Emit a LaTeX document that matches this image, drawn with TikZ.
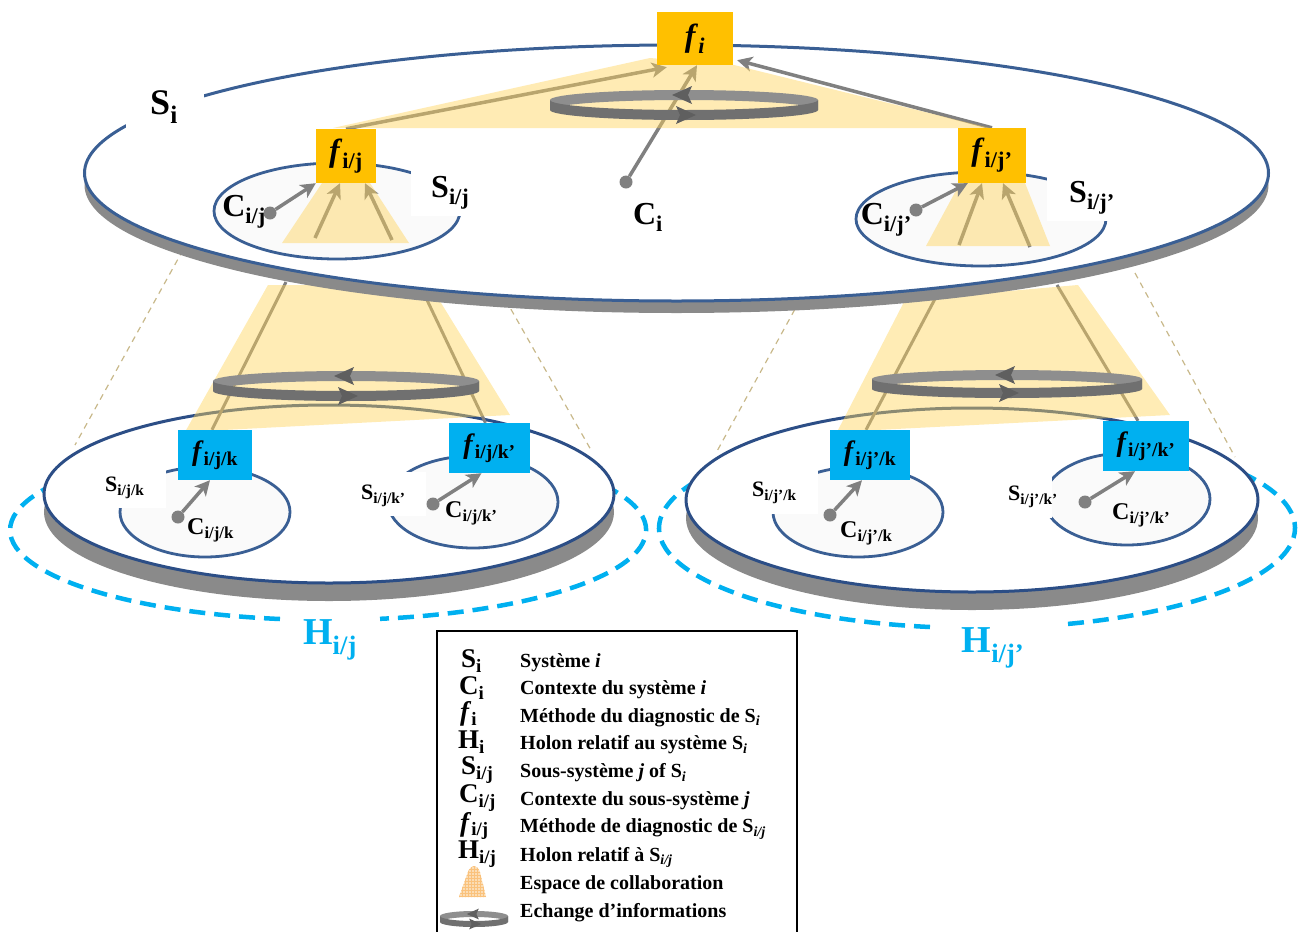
\documentclass[tikz,border=0pt]{standalone}
\usepackage{fontspec}
\setmainfont{Liberation Serif}
\usetikzlibrary{arrows.meta,patterns}
\definecolor{orangeC}{HTML}{FFC000}
\definecolor{cyanC}{HTML}{00B0F0}
\definecolor{blueL}{HTML}{3A5F94}
\definecolor{blueD}{HTML}{2C4E86}
\definecolor{rimG}{HTML}{8A8A8A}
\definecolor{arrG}{HTML}{808080}
\definecolor{yel}{HTML}{FFD45A}
\definecolor{tanD}{HTML}{C8B88A}
\definecolor{ringB}{HTML}{8E8E8E}
\definecolor{ringF}{HTML}{707070}
\definecolor{innerF}{HTML}{FAFAFA}
\definecolor{peach}{HTML}{F9C98A}
\pgfdeclarelayer{l1}\pgfdeclarelayer{l2}\pgfdeclarelayer{l3}\pgfdeclarelayer{l4}\pgfdeclarelayer{l5}
\pgfsetlayers{l1,l2,l3,l4,l5,main}
\newcommand\lb[2]{\textbf{#1\textsubscript{#2}}}
\newcommand\fb[1]{\textbf{\textit{f}\textsubscript{#1}}}
\newcommand\fsz[1]{\fontsize{#1}{#1}\selectfont\bfseries}
% cx cy rx ry scale
\newcommand\ringband[5]{%
 \fill[ringB] ({#1+#3},{#2-5*#5}) arc[start angle=0,end angle=-180,x radius=#3,y radius=#4] -- ++(0,{10*#5}) arc[start angle=-180,end angle=0,x radius=#3,y radius=#4] -- cycle;
 \fill[ringF] ({#1+#3},{#2-5*#5}) arc[start angle=0,end angle=180,x radius=#3,y radius=#4] -- ++(0,{10*#5}) arc[start angle=180,end angle=0,x radius=#3,y radius=#4] -- cycle;
 \fill[ringF!85!black] ({#1-12*#5},{#2-#4}) -- ({#1+8*#5},{#2-#4-9*#5}) -- ({#1+4*#5},{#2-#4}) -- ({#1+8*#5},{#2-#4+9*#5}) -- cycle;
 \fill[ringF!85!black] ({#1+12*#5},{#2+#4}) -- ({#1-8*#5},{#2+#4-9*#5}) -- ({#1-4*#5},{#2+#4}) -- ({#1-8*#5},{#2+#4+9*#5}) -- cycle;}
\tikzset{
 obox/.style={fill=orangeC,inner sep=0pt,font=\fsz{32}},
 cbox/.style={fill=cyanC,inner sep=0pt,font=\fsz{28}},
 arr/.style={draw=arrG,line width=3.5pt,-{Stealth[length=15pt,width=15pt,inset=4pt]}},
 dotn/.style={circle,fill=arrG,inner sep=0pt,minimum size=13pt},
 yzone/.style={fill=yel,fill opacity=0.45},
 olive/.style={draw=arrG,line width=3pt},
 disk/.style={draw=blueL,line width=3pt,fill=white},
 ldisk/.style={draw=blueD,line width=3pt,fill=white},
 inner/.style={draw=blueL,line width=2.8pt,fill=innerF},
 hol/.style={draw=cyanC,line width=4.5pt,dash pattern=on 16pt off 9pt},
 tand/.style={draw=tanD,line width=1.2pt,dash pattern=on 6pt off 5pt},
 lab/.style={inner sep=0pt},
 leg/.style={anchor=west,inner sep=0pt,font=\fsz{20}},
 legs/.style={anchor=west,inner sep=0pt,font=\fsz{27}},
}
\begin{document}
\begin{tikzpicture}[x=1pt,y=-1pt]
\useasboundingbox (0,0) rectangle (1299,932);
% ---------- boxes (main layer) ----------
\node[obox,minimum width=76pt,minimum height=53pt] (fi) at (695,38.5) {\textit{f}\textsubscript{\textit{i}}};
\node[obox,minimum width=60pt,minimum height=54pt] (fij) at (346,156) {\fb{i/j}};
\node[obox,minimum width=68pt,minimum height=55pt] (fijp) at (992,155.5) {\fb{i/j’}};
\node[cbox,minimum width=74pt,minimum height=50pt] (fijk) at (215,455) {\fb{i/j/k}};
\node[cbox,minimum width=81pt,minimum height=50pt] (fijkp) at (489.5,448) {\fb{i/j/k’}};
\node[cbox,minimum width=80pt,minimum height=50pt] (fjpk) at (870,455) {\fb{i/j’/k}};
\node[cbox,minimum width=86pt,minimum height=50pt] (fjpkp) at (1146,446) {\fb{i/j’/k’}};
% ---------- layer 1: lower holons ----------
\begin{pgfonlayer}{l1}
 \coordinate (d1a) at (183,250); \coordinate (d1b) at (75,445);
 \coordinate (d2a) at (500,290); \coordinate (d2b) at (591,450);
 \coordinate (d3a) at (800,300); \coordinate (d3b) at (716,453);
 \coordinate (d4a) at (1135,273); \coordinate (d4b) at (1235,457);
 \draw[tand] (d1a) -- (d1b); \draw[tand] (d2a) -- (d2b);
 \draw[tand] (d3a) -- (d3b); \draw[tand] (d4a) -- (d4b);
 \draw[hol] (280,619) arc[start angle=98.7,end angle=440.6,x radius=318,y radius=90];
 \draw[hol] (930,627) arc[start angle=98.5,end angle=434.9,x radius=318,y radius=100];
 \fill[rimG] (329,512) ellipse[x radius=285,y radius=89];
 \draw[ldisk] (329,494) ellipse[x radius=285,y radius=89];
 \fill[rimG] (972,518) ellipse[x radius=286,y radius=92];
 \draw[ldisk] (972,500) ellipse[x radius=286,y radius=92];
 \draw[inner] (205,512) ellipse[x radius=85,y radius=45];
 \draw[inner] (473,502) ellipse[x radius=85,y radius=46];
 \draw[inner] (858,512) ellipse[x radius=85,y radius=45];
 \draw[inner] (1127,499) ellipse[x radius=83,y radius=46];
 % white gaps behind the sub-system labels
 \fill[white] (100,468) rectangle (166,508);
 \fill[white] (352,472) rectangle (426,516);
 \fill[white] (742,470) rectangle (818,514);
 \fill[white] (996,474) rectangle (1052,518);
\end{pgfonlayer}
% ---------- layer 2: lower collaboration ----------
\begin{pgfonlayer}{l2}
 \coordinate (t1) at (286,282); \coordinate (t2) at (427,300);
 \coordinate (t3) at (936,297); \coordinate (t4) at (1057,285);
 \draw[olive] (t1) -- ([xshift=-3pt]fijk.north);
 \draw[olive] (t2) -- ([xshift=-4pt]fijkp.north);
 \draw[olive] (t3) -- ([xshift=-4pt]fjpk.north);
 \draw[olive] (t4) -- ([xshift=-8pt]fjpkp.north);
 \fill[yzone] (268,285) -- (430,285) -- (510,415) -- (185,432) -- cycle;
 \fill[yzone] (905,300) -- (1078,285) -- (1170,415) -- (837,432) -- cycle;
 \ringband{346}{386}{133}{10}{1}
 \ringband{1007}{384}{135}{9}{1}
\end{pgfonlayer}
% ---------- layer 3: top disk ----------
\begin{pgfonlayer}{l3}
 \fill[rimG] (676.5,185) ellipse[x radius=592,y radius=128];
 \draw[disk] (676.5,173) ellipse[x radius=592,y radius=128];
 \draw[inner] (337,211) ellipse[x radius=123,y radius=48];
 \draw[inner] (981,219) ellipse[x radius=125,y radius=47];
 \fill[white] (126,84) rectangle (204,131);
 \fill[white] (411,171) rectangle (472,216);
 \fill[white] (1047,175) rectangle (1110,221);
\end{pgfonlayer}
% ---------- layer 4: top arrows ----------
\begin{pgfonlayer}{l4}
 \node[dotn] (cid) at (626,182) {};
 \draw[arr] (cid) -- ([xshift=2pt]fi.south);
 \draw[arr] (fij.north) -- ([xshift=10pt,yshift=-2pt]fi.south west);
 \draw[arr] (fijp.north) -- ([xshift=4pt,yshift=5pt]fi.south east);
 \coordinate (u1) at (315,238); \coordinate (u2) at (392,240);
 \coordinate (u3) at (959,245); \coordinate (u4) at (1030,247);
 \draw[arr] (u1) -- ([xshift=-6pt]fij.south);
 \draw[arr] (u2) -- ([xshift=19pt]fij.south);
 \draw[arr] (u3) -- ([xshift=-10pt]fijp.south);
 \draw[arr] (u4) -- ([xshift=11pt]fijp.south);
\end{pgfonlayer}
% ---------- layer 5: top collaboration ----------
\begin{pgfonlayer}{l5}
 \fill[yzone] (650,58) -- (734,65) -- (990,128) -- (333,128) -- cycle;
 \fill[yzone] (322,183) -- (370,183) -- (409,243) -- (282,243) -- cycle;
 \fill[yzone] (960,183) -- (1025,183) -- (1050,246) -- (926,246) -- cycle;
 \ringband{684}{105}{134}{10}{1}
\end{pgfonlayer}
% ---------- contexts ----------
\node[dotn] (cij) at (270,213) {};
\draw[arr] (cij) -- (fij.south west);
\node[dotn] (cijp) at (916,210) {};
\draw[arr] (cijp) -- ([xshift=10pt]fijp.south west);
\node[dotn] (cijk) at (178,517) {};
\draw[arr] (cijk) -- ([xshift=-5pt]fijk.south);
\node[dotn] (cijkp) at (433,504) {};
\draw[arr] (cijkp) -- ([xshift=-8pt]fijkp.south);
\node[dotn] (cjpk) at (830,515) {};
\draw[arr] (cjpk) -- ([xshift=-8pt]fjpk.south);
\node[dotn] (cjpkp) at (1085,502) {};
\draw[arr] (cjpkp) -- ([xshift=-11pt]fjpkp.south);
% ---------- labels ----------
\node[lab,font=\fsz{36}] (lsi) at (164,107) {\lb{S}{i}};
\node[lab,font=\fsz{32}] (lci) at (648,217) {\lb{C}{i}};
\node[lab,font=\fsz{32},anchor=east] (lcij) at (266,212) {\lb{C}{i/j}};
\node[lab,font=\fsz{32},anchor=west] (lsij) at (431,193) {\lb{S}{i/j}};
\node[lab,font=\fsz{32},anchor=east] (lcijp) at (912,220) {\lb{C}{i/j’}};
\node[lab,font=\fsz{32},anchor=west] (lsijp) at (1069,198) {\lb{S}{i/j’}};
\node[lab,font=\fsz{22},anchor=west] (lsijk) at (105,488) {\lb{S}{i/j/k}};
\node[lab,font=\fsz{24},anchor=west] (lcijk) at (187,530) {\lb{C}{i/j/k}};
\node[lab,font=\fsz{22},anchor=west] (lsijkp) at (361,496) {\lb{S}{i/j/k’}};
\node[lab,font=\fsz{24},anchor=west] (lcijkp) at (445,513) {\lb{C}{i/j/k’}};
\node[lab,font=\fsz{22},anchor=west] (lsjpk) at (752,493) {\lb{S}{i/j’/k}};
\node[lab,font=\fsz{24},anchor=west] (lcjpk) at (840,533) {\lb{C}{i/j’/k}};
\node[lab,font=\fsz{22},anchor=west] (lsjpkp) at (1008,497) {\lb{S}{i/j’/k’}};
\node[lab,font=\fsz{24},anchor=west] (lcjpkp) at (1112,515) {\lb{C}{i/j’/k’}};
\node[lab,font=\fsz{38},text=cyanC] (hij) at (330,640) {\lb{H}{i/j}};
\node[lab,font=\fsz{38},text=cyanC] (hijp) at (993,648) {\lb{H}{i/j’}};
% ---------- legend ----------
\draw[line width=1.3pt] (437,932) -- (437,631) -- (797,631) -- (797,932);
\node[legs] (s1) at (461,661) {\lb{S}{i}};
\node[legs] (s2) at (459,688) {\lb{C}{i}};
\node[legs] (s3) at (460,714) {\textbf{\textit{f}}\textsubscript{\textbf{i}}};
\node[legs] (s4) at (458,742) {\lb{H}{i}};
\node[legs] (s5) at (461,770) {\lb{S}{i/j}};
\node[legs] (s6) at (459,798) {\lb{C}{i/j}};
\node[legs] (s7) at (460,826) {\fb{i/j}};
\node[legs] (s8) at (458,854) {\lb{H}{i/j}};
\fill[peach!70,fill opacity=0.9] (459,897) -- (468,872) .. controls (471,864) and (477,864) .. (480,872) -- (486,897) -- cycle;
\fill[pattern=grid,pattern color=peach!90!orange] (459,897) -- (468,872) .. controls (471,864) and (477,864) .. (480,872) -- (486,897) -- cycle;
\ringband{474}{919}{34}{5}{0.6}
\node[leg] (t1l) at (520,663) {Système \textit{i}};
\node[leg] (t2l) at (520,690) {Contexte du système \textit{i}};
\node[leg] (t3l) at (520,718) {Méthode du diagnostic de S\textsubscript{\textit{i}}};
\node[leg] (t4l) at (520,745) {Holon relatif au système S\textsubscript{\textit{i}}};
\node[leg] (t5l) at (520,773) {Sous-système \textit{j} of S\textsubscript{\textit{i}}};
\node[leg] (t6l) at (520,801) {Contexte du sous-système \textit{j}};
\node[leg] (t7l) at (520,829) {Méthode de diagnostic de S\textsubscript{\textit{i/j}}};
\node[leg] (t8l) at (520,857) {Holon relatif à S\textsubscript{\textit{i/j}}};
\node[leg] (t9l) at (520,885) {Espace de collaboration};
\node[leg] (t10l) at (520,913) {Echange d’informations};
\end{tikzpicture}
\end{document}
